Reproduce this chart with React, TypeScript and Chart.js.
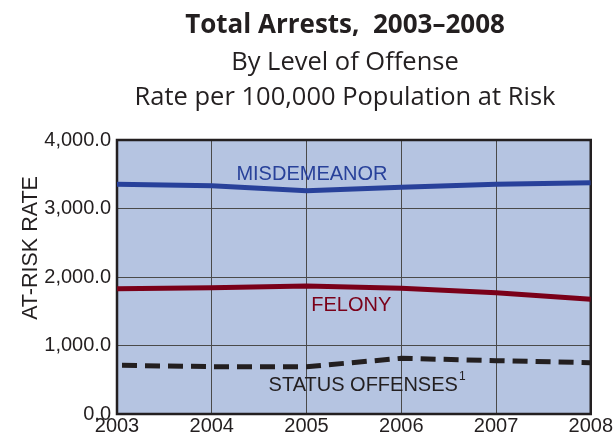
import React, { useEffect, useRef } from "react";
import { Chart, registerables } from "chart.js";

Chart.register(...registerables);

const years = [2003, 2004, 2005, 2006, 2007, 2008];
const misdemeanor = [3353, 3333, 3260, 3310, 3353, 3377];
const felony = [1829, 1844, 1869, 1835, 1771, 1674];
const statusOffenses = [711, 691, 691, 813, 779, 749];
const yTicks = [0, 1000, 2000, 3000, 4000];
const titleLines = ["Total Arrests,  2003–2008", "By Level of Offense", "Rate per 100,000 Population at Risk"];
const yAxisTitle = "AT-RISK RATE";
const seriesLabels = ["MISDEMEANOR", "FELONY", "STATUS OFFENSES"];
const footnoteMark = "1";

const BG = "#b5c4e1";
const BLUE = "#28419a";
const RED = "#7a0019";
const DARK = "#231f20";
const GRID = "#4a4a4a";
const TICK_FONT = "Liberation Sans, Arial, sans-serif";
const TITLE_FONT = "'Open Sans', 'Noto Sans', sans-serif";

const decorPlugin = {
  id: "decor",
  beforeDraw(chart: any) {
    const { ctx, chartArea: a } = chart;
    ctx.save();
    ctx.fillStyle = BG;
    ctx.fillRect(a.left, a.top, a.right - a.left, a.bottom - a.top);
    ctx.restore();
  },
  beforeDatasetsDraw(chart: any) {
    const { ctx, chartArea: a } = chart;
    ctx.save();
    ctx.strokeStyle = DARK;
    ctx.lineWidth = 2.5;
    ctx.strokeRect(a.left, a.top, a.right - a.left, a.bottom - a.top);
    ctx.restore();
  },
  afterDatasetsDraw(chart: any) {
    const { ctx } = chart;
    const x = chart.scales.x;
    const y = chart.scales.y;
    ctx.save();
    ctx.font = `20px ${TICK_FONT}`;
    ctx.textBaseline = "middle";
    ctx.textAlign = "left";
    ctx.fillStyle = BLUE;
    ctx.fillText(seriesLabels[0], x.getPixelForValue(2004.26), y.getPixelForValue(3500));
    ctx.fillStyle = RED;
    ctx.fillText(seriesLabels[1], x.getPixelForValue(2005.05), y.getPixelForValue(1590));
    ctx.fillStyle = DARK;
    const sx = x.getPixelForValue(2004.6);
    const sy = y.getPixelForValue(420);
    ctx.fillText(seriesLabels[2], sx, sy);
    const w = ctx.measureText(seriesLabels[2]).width;
    ctx.font = `12px ${TICK_FONT}`;
    ctx.fillText(footnoteMark, sx + w + 1, sy - 9);
    ctx.restore();
  },
  afterDraw(chart: any) {
    const { ctx } = chart;
    ctx.save();
    ctx.fillStyle = DARK;
    ctx.textAlign = "center";
    ctx.textBaseline = "middle";
    ctx.font = `bold 26px ${TITLE_FONT}`;
    ctx.fillText(titleLines[0], 345, 26);
    ctx.font = `25.5px ${TITLE_FONT}`;
    ctx.fillText(titleLines[1], 345, 63);
    ctx.fillText(titleLines[2], 345, 98);
    ctx.translate(31, 248);
    ctx.rotate(-Math.PI / 2);
    ctx.font = `21.5px ${TICK_FONT}`;
    ctx.fillText(yAxisTitle, 0, 0);
    ctx.restore();
  },
};

export default function App() {
  const ref = useRef<HTMLCanvasElement | null>(null);
  useEffect(() => {
    if (!ref.current) return;
    const chart = new Chart(ref.current, {
      type: "line",
      data: {
        datasets: [
          {
            label: seriesLabels[0],
            data: years.map((yr, i) => ({ x: yr, y: misdemeanor[i] })),
            borderColor: BLUE,
            borderWidth: 5,
            pointRadius: 0,
            tension: 0,
          },
          {
            label: seriesLabels[1],
            data: years.map((yr, i) => ({ x: yr, y: felony[i] })),
            borderColor: RED,
            borderWidth: 5,
            pointRadius: 0,
            tension: 0,
          },
          {
            label: seriesLabels[2],
            data: years.map((yr, i) => ({ x: yr, y: statusOffenses[i] })),
            borderColor: DARK,
            borderWidth: 5,
            borderDash: [15, 8],
            borderDashOffset: 18,
            borderCapStyle: "butt",
            pointRadius: 0,
            tension: 0,
          },
        ],
      },
      options: {
        animation: false,
        responsive: false,
        layout: { padding: { top: 140, right: 21, left: 0, bottom: 0 } },
        plugins: { legend: { display: false }, tooltip: { enabled: false }, title: { display: false } },
        scales: {
          x: {
            type: "linear",
            min: years[0],
            max: years[years.length - 1],
            afterBuildTicks: (s: any) => {
              s.ticks = years.map((v) => ({ value: v }));
            },
            ticks: {
              callback: (v: any) => String(v),
              font: { family: TICK_FONT, size: 20 },
              color: DARK,
              padding: 0,
              maxRotation: 0,
              autoSkip: false,
            },
            grid: { color: GRID, lineWidth: 1, drawTicks: false },
            border: { display: false },
            afterFit: (s: any) => {
              s.height = 22;
            },
          },
          y: {
            min: 0,
            max: 4000,
            afterBuildTicks: (s: any) => {
              s.ticks = yTicks.map((v) => ({ value: v }));
            },
            ticks: {
              callback: (v: any) => Number(v).toLocaleString("en-US", { minimumFractionDigits: 1, maximumFractionDigits: 1 }),
              font: { family: TICK_FONT, size: 20 },
              color: DARK,
              padding: 6,
            },
            grid: { color: GRID, lineWidth: 1, drawTicks: false },
            border: { display: false },
            afterFit: (s: any) => {
              s.width = 117;
            },
          },
        },
      },
      plugins: [decorPlugin],
    } as any);
    return () => chart.destroy();
  }, []);
  return (
    <div style={{ position: "absolute", left: 0, top: 0, width: 613, height: 436 }}>
      <canvas ref={ref} width={613} height={436} style={{ display: "block" }} />
    </div>
  );
}
